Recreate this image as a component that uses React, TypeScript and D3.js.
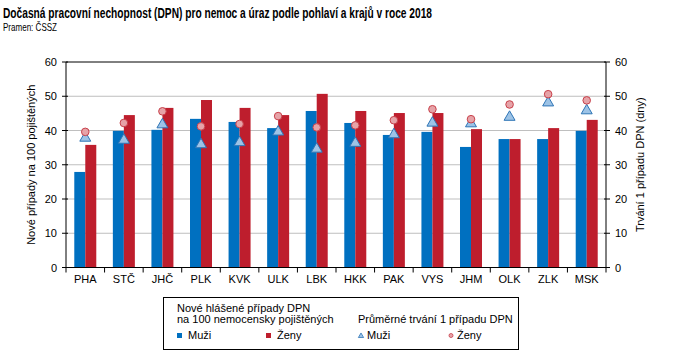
import React from "react";
import * as d3 from "d3";

const regions = ["PHA", "STČ", "JHČ", "PLK", "KVK", "ULK", "LBK", "HKK", "PAK", "VYS", "JHM", "OLK", "ZLK", "MSK"];
const casesMen = [27.9, 39.9, 40.2, 43.4, 42.5, 40.7, 45.7, 42.2, 38.7, 39.6, 35.2, 37.5, 37.5, 39.9];
const casesWomen = [35.8, 44.5, 46.6, 48.9, 46.6, 44.5, 50.7, 45.7, 45.1, 45.1, 40.4, 37.5, 40.7, 43.1];
const durMen = [37.8, 37.2, 41.7, 35.9, 36.5, 39.6, 34.6, 36.3, 38.8, 42.2, 42.0, 43.9, 48.1, 45.8];
const durWomen = [39.6, 42.2, 45.6, 41.2, 41.9, 44.2, 40.9, 41.5, 43.0, 46.2, 43.3, 47.6, 50.6, 48.8];
const yTicks = [0, 10, 20, 30, 40, 50, 60];

const W = 685, H = 359;
const L = 66, R = 606, T = 62, B = 267.5;
const BLUE = "#0070C0", RED = "#BE1E2D";
const TRI_FILL = "#9DC3E6", TRI_STROKE = "#2E75B6";
const CIR_FILL = "#E6A3A8", CIR_STROKE = "#C8404A";
const FONT = "Liberation Sans, Arial, sans-serif";

export default function App() {
  const x = d3.scaleBand<string>().domain(regions).range([L, R]).paddingInner(0).paddingOuter(0);
  const y = d3.scaleLinear().domain([0, 60]).range([B, T]);
  const y2 = d3.scaleLinear().domain([0, 60]).range([B, T]);
  const bw = 11;
  const tri = d3.symbol().type(d3.symbolTriangle).size(52)() as string;
  const bounds = [...regions.map((r) => x(r)!), R];

  return (
    <svg width={W} height={H} style={{ position: "absolute", left: 0, top: 0, background: "#fff" }} fontFamily={FONT}>
      <text x={3} y={18} fontSize={14} fontWeight="bold" textLength={429} lengthAdjust="spacingAndGlyphs" fill="#000">
        Dočasná pracovní nechopnost  (DPN) pro nemoc a úraz podle pohlaví a krajů v roce 2018
      </text>
      <text x={3} y={31} fontSize={11} textLength={54} lengthAdjust="spacingAndGlyphs" fill="#000">Pramen: ČSSZ</text>

      {yTicks.filter((t) => t > 0 && t < 60).map((t) => (
        <line key={"g" + t} x1={L} x2={R} y1={y(t)} y2={y(t)} stroke="#BFBFBF" strokeWidth={1} />
      ))}
      <line x1={L} x2={R} y1={T} y2={T} stroke="#000" strokeWidth={1} />

      {regions.map((r, i) => {
        const c = x(r)! + x.bandwidth() / 2;
        return (
          <g key={r}>
            <rect x={c - bw} y={y(casesMen[i])} width={bw} height={B - y(casesMen[i])} fill={BLUE} />
            <rect x={c} y={y(casesWomen[i])} width={bw} height={B - y(casesWomen[i])} fill={RED} />
          </g>
        );
      })}
      {regions.map((r, i) => {
        const c = x(r)! + x.bandwidth() / 2;
        return (
          <g key={"m" + r}>
            <path d={tri} transform={`translate(${c},${y2(durMen[i])})`} fill={TRI_FILL} stroke={TRI_STROKE} strokeWidth={1} />
            <circle cx={c} cy={y2(durWomen[i])} r={3.8} fill={CIR_FILL} stroke={CIR_STROKE} strokeWidth={1} />
          </g>
        );
      })}

      {/* axes */}
      <line x1={L} x2={L} y1={T} y2={B} stroke="#000" />
      <line x1={R} x2={R} y1={T} y2={B} stroke="#000" />
      <line x1={L - 4} x2={R + 4} y1={B} y2={B} stroke="#000" />
      {yTicks.map((t) => (
        <g key={"t" + t}>
          <line x1={L - 4} x2={L + 2} y1={y(t)} y2={y(t)} stroke="#000" />
          <text x={L - 9} y={y(t) + 4} fontSize={11} textAnchor="end" fill="#000">{t}</text>
          <line x1={R - 2} x2={R + 4} y1={y2(t)} y2={y2(t)} stroke="#000" />
          <text x={R + 9} y={y2(t) + 4} fontSize={11} textAnchor="start" fill="#000">{t}</text>
        </g>
      ))}
      {bounds.map((b, i) => (
        <line key={"xb" + i} x1={b} x2={b} y1={B} y2={B + 5} stroke="#000" />
      ))}
      {regions.map((r) => (
        <text key={"xl" + r} x={x(r)! + x.bandwidth() / 2} y={283} fontSize={11} textAnchor="middle" fill="#000">{r}</text>
      ))}

      <text transform={`translate(35,${(T + B) / 2}) rotate(-90)`} fontSize={11} textAnchor="middle" fill="#000">
        Nové případy na 100 pojištěných
      </text>
      <text transform={`translate(644,${(T + B) / 2}) rotate(-90)`} fontSize={11} textAnchor="middle" fill="#000">
        Trvání 1 případu DPN  (dny)
      </text>

      {/* legend */}
      <rect x={163.5} y={297.5} width={355} height={52} fill="#fff" stroke="#000" />
      <text x={177} y={312} fontSize={11} fill="#000">Nové hlášené případy DPN</text>
      <text x={177} y={323} fontSize={11} fill="#000">na 100 nemocensky pojištěných</text>
      <text x={358} y={323} fontSize={11} fill="#000">Průměrné trvání 1 případu DPN</text>
      <rect x={177} y={333} width={5} height={5} fill={BLUE} />
      <text x={188} y={339} fontSize={11} fill="#000">Muži</text>
      <rect x={266} y={333} width={5} height={5} fill={RED} />
      <text x={277} y={339} fontSize={11} fill="#000">Ženy</text>
      <path d={d3.symbol().type(d3.symbolTriangle).size(12)() as string} transform="translate(361,336)" fill={TRI_FILL} stroke={TRI_STROKE} strokeWidth={0.8} />
      <text x={367} y={339} fontSize={11} fill="#000">Muži</text>
      <circle cx={451} cy={335.5} r={2} fill={CIR_FILL} stroke={CIR_STROKE} strokeWidth={0.8} />
      <text x={457} y={339} fontSize={11} fill="#000">Ženy</text>
    </svg>
  );
}
